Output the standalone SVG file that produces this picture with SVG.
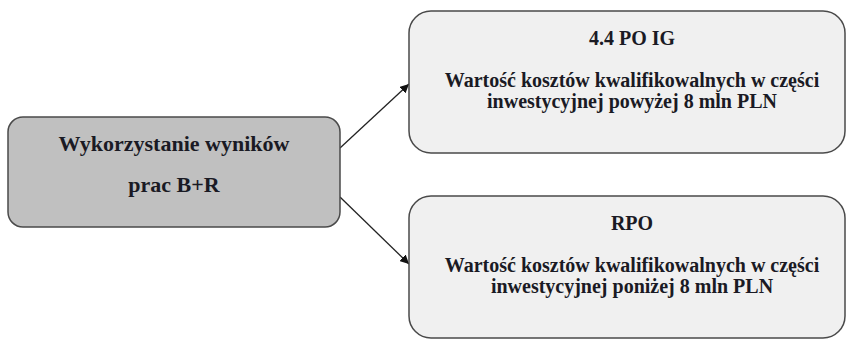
<svg xmlns="http://www.w3.org/2000/svg" width="848" height="340" viewBox="0 0 848 340">
<defs>
<style>
.box{stroke:#4a4a4a;stroke-width:1.5}
.src{fill:#c0c0c0}
.dst{fill:#f0f0f0}
.lbl{font-family:"Liberation Serif","Times New Roman",serif;font-weight:bold;fill:#1a1a24;text-anchor:middle}
.big{font-size:22px}
.mid{font-size:20px}
.conn{stroke:#222;stroke-width:1.3;fill:none;marker-end:url(#arr)}
</style>
<marker id="arr" viewBox="0 0 10 10" refX="10" refY="5" markerWidth="9" markerHeight="9" markerUnits="userSpaceOnUse" orient="auto">
<path d="M0,0 L10,5 L0,10 z" fill="#111"/>
</marker>
</defs>
<rect width="848" height="340" fill="#ffffff"/>
<g id="connectors">
<line class="conn" x1="340" y1="148" x2="409" y2="84"/>
<line class="conn" x1="340" y1="197" x2="409" y2="264"/>
</g>
<g id="node-source">
<rect class="box src" x="8" y="117" width="332" height="110" rx="15" ry="15"/>
<text class="lbl big" x="174" y="151">Wykorzystanie wyników</text>
<text class="lbl big" x="174" y="192">prac B+R</text>
</g>
<g id="node-poig">
<rect class="box dst" x="409" y="11" width="436" height="142" rx="22" ry="22"/>
<text class="lbl mid" x="632" y="45">4.4 PO IG</text>
<text class="lbl mid" x="632" y="87">Wartość kosztów kwalifikowalnych w części</text>
<text class="lbl mid" x="632" y="108">inwestycyjnej powyżej 8 mln PLN</text>
</g>
<g id="node-rpo">
<rect class="box dst" x="409" y="196" width="436" height="142" rx="22" ry="22"/>
<text class="lbl mid" x="632" y="230">RPO</text>
<text class="lbl mid" x="632" y="272">Wartość kosztów kwalifikowalnych w części</text>
<text class="lbl mid" x="632" y="293">inwestycyjnej poniżej 8 mln PLN</text>
</g>
</svg>
